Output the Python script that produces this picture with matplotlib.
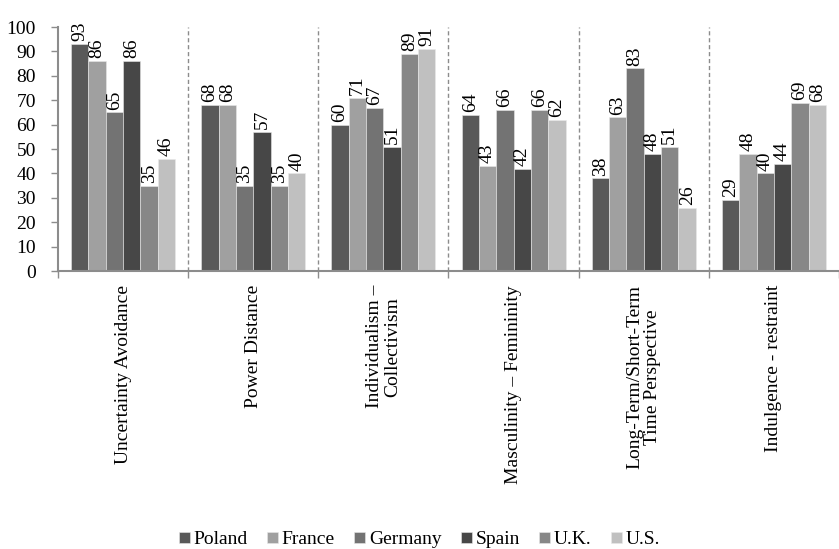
import numpy as np
import matplotlib.pyplot as plt

plt.rcParams['font.family'] = ['Liberation Serif', 'DejaVu Serif']

categories = ["Uncertainty Avoidance", "Power Distance", "Individualism \u2013\nCollectivism",
              "Masculinity \u2013 Femininity", "Long-Term/Short-Term\nTime Perspective",
              "Indulgence - restraint"]
countries = ["Poland", "France", "Germany", "Spain", "U.K.", "U.S."]
poland = [93, 68, 60, 64, 38, 29]
france = [86, 68, 71, 43, 63, 48]
germany = [65, 35, 67, 66, 83, 40]
spain = [86, 57, 51, 42, 48, 44]
uk = [35, 35, 89, 66, 51, 69]
us = [46, 40, 91, 62, 26, 68]
series = [poland, france, germany, spain, uk, us]
colors = ['#595959', '#a0a0a0', '#737373', '#474747', '#878787', '#c0c0c0']

fs = 14

fig = plt.figure(figsize=(8.39, 5.49), dpi=100)
ax = fig.add_axes([58/839, 278/549, 781/839, 244/549])

n = len(series)
group = 0.8
w = group / n
x = np.arange(len(categories))
for i, (vals, c, name) in enumerate(zip(series, colors, countries)):
    pos = x - group/2 + w*(i + 0.5)
    bars = ax.bar(pos, vals, width=w, color=c, edgecolor='#e8e8e8', linewidth=0.4, label=name)
    for b, v in zip(bars, vals):
        ax.annotate(str(v), (b.get_x() + b.get_width()/2, v), xytext=(0, 2),
                    textcoords='offset points', rotation=90, ha='center', va='bottom',
                    fontsize=fs, annotation_clip=False)

# dashed separators between groups
for k in range(1, len(categories)):
    ax.axvline(k - 0.5, color='#8c8c8c', linestyle=(0, (3, 2)), linewidth=1.0)

ax.set_xlim(-0.5, len(categories) - 0.5)
ax.set_ylim(0, 100)
ax.set_yticks(range(0, 101, 10))
ax.set_xticks(x)
ax.set_xticklabels(categories, rotation=90, fontsize=fs, ha='center', va='top',
                   multialignment='center', linespacing=1.1)
ax.set_xticks(np.arange(-0.5, len(categories)), minor=True)
ax.tick_params(axis='x', which='major', length=0, pad=10)
ax.tick_params(axis='x', which='minor', length=5, color='#8c8c8c', width=1)
ax.tick_params(axis='y', labelsize=fs, length=5, color='#8c8c8c', width=1, pad=11)

for s in ['top', 'right']:
    ax.spines[s].set_visible(False)
for s in ['left', 'bottom']:
    ax.spines[s].set_color('#8c8c8c')
    ax.spines[s].set_linewidth(1.5)

fig.legend(loc='center', bbox_to_anchor=(0.5, 9/549), ncol=6, frameon=False,
           fontsize=fs, handlelength=0.55, handleheight=0.55, handletextpad=0.2,
           columnspacing=1.0)

fig.savefig('out.png', dpi=100)
